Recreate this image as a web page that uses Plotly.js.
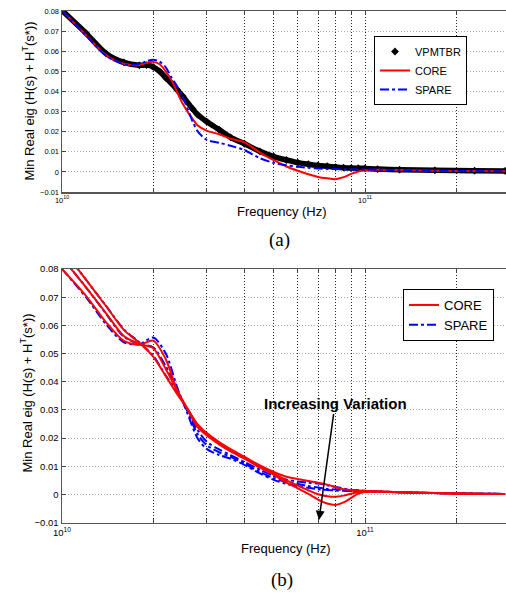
<!DOCTYPE html>
<html>
<head>
<meta charset="utf-8">
<script src="https://cdn.plot.ly/plotly-3.0.1.min.js"></script>
<style>html,body{margin:0;padding:0;background:#fff;}#chart{width:506px;height:593px;}</style>
</head>
<body>
<div id="chart"></div>
<script>
// ---------- Data (frequencies in GHz) ----------
const fTop = [10, 12, 14, 16, 18, 19, 20, 21, 22, 23, 24, 25, 27, 28, 30, 33, 36, 40, 45, 50, 55, 60, 65, 70, 75, 80, 85, 90, 95, 100, 110, 130, 170, 230, 290];
const vpmtbrTop = [0.0803, 0.0690, 0.0588, 0.0545, 0.0530, 0.0531, 0.0522, 0.0500, 0.0468, 0.0440, 0.0408, 0.0377, 0.0313, 0.0285, 0.0250, 0.0210, 0.0172, 0.0140, 0.0102, 0.0076, 0.0059, 0.0046, 0.0038, 0.0032, 0.0028, 0.0024, 0.0021, 0.0019, 0.0018, 0.0017, 0.0014, 0.0011, 0.0008, 0.0006, 0.0005];
const coreTop = [0.0803, 0.0680, 0.0580, 0.0538, 0.0532, 0.0542, 0.0547, 0.0535, 0.0500, 0.0455, 0.0395, 0.0340, 0.0262, 0.0232, 0.0205, 0.0187, 0.0165, 0.0147, 0.0096, 0.0058, 0.0027, 0.0006, -0.0012, -0.0025, -0.0032, -0.0036, -0.0026, -0.0010, 0.0002, 0.0008, 0.0011, 0.0009, 0.0006, 0.0004, 0.0003];
const spareTop = [0.0803, 0.0678, 0.0577, 0.0535, 0.0536, 0.0550, 0.0558, 0.0548, 0.0520, 0.0468, 0.0425, 0.0375, 0.0250, 0.0203, 0.0160, 0.0145, 0.0130, 0.0108, 0.0068, 0.0045, 0.0033, 0.0025, 0.0020, 0.0017, 0.0015, 0.0014, 0.0013, 0.0013, 0.0012, 0.0012, 0.0011, 0.0009, 0.0006, 0.0004, 0.0003];

const fBot = [10, 12, 14, 16, 18, 20, 22, 24, 26, 28, 30, 33, 36, 40, 45, 50, 55, 60, 65, 70, 75, 80, 85, 90, 95, 100, 110, 130, 170, 230, 290];
const core1 = [0.0800, 0.0705, 0.0610, 0.0545, 0.0531, 0.0546, 0.0480, 0.0370, 0.0300, 0.0240, 0.0210, 0.0178, 0.0153, 0.0127, 0.0095, 0.0070, 0.0042, 0.0022, 0.0002, -0.0018, -0.0032, -0.0037, -0.0028, -0.0012, 0.0003, 0.0009, 0.0011, 0.0008, 0.0005, 0.0003, 0.0002];
const core2 = [0.0840, 0.0735, 0.0642, 0.0562, 0.0533, 0.0519, 0.0445, 0.0368, 0.0302, 0.0245, 0.0214, 0.0182, 0.0157, 0.0130, 0.0098, 0.0074, 0.0050, 0.0032, 0.0015, 0.0001, -0.0006, -0.0008, -0.0004, 0.0003, 0.0008, 0.0011, 0.0011, 0.0008, 0.0005, 0.0003, 0.0002];
const core3 = [0.0873, 0.0762, 0.0667, 0.0584, 0.0538, 0.0489, 0.0420, 0.0356, 0.0303, 0.0250, 0.0219, 0.0186, 0.0161, 0.0134, 0.0103, 0.0080, 0.0063, 0.0055, 0.0048, 0.0042, 0.0035, 0.0026, 0.0019, 0.0016, 0.0014, 0.0013, 0.0011, 0.0008, 0.0005, 0.0003, 0.0002];
const spare1 = [0.0800, 0.0700, 0.0603, 0.0540, 0.0533, 0.0557, 0.0500, 0.0380, 0.0285, 0.0200, 0.0162, 0.0140, 0.0127, 0.0105, 0.0075, 0.0052, 0.0038, 0.0030, 0.0024, 0.0019, 0.0016, 0.0014, 0.0013, 0.0012, 0.0011, 0.0011, 0.0010, 0.0008, 0.0005, 0.0003, 0.0002];
const spare2 = [0.0840, 0.0735, 0.0640, 0.0560, 0.0534, 0.0522, 0.0455, 0.0372, 0.0292, 0.0215, 0.0175, 0.0150, 0.0134, 0.0110, 0.0080, 0.0058, 0.0045, 0.0037, 0.0030, 0.0025, 0.0020, 0.0018, 0.0016, 0.0014, 0.0013, 0.0012, 0.0010, 0.0008, 0.0005, 0.0003, 0.0002];
const spare3 = [0.0873, 0.0762, 0.0668, 0.0586, 0.0540, 0.0492, 0.0422, 0.0362, 0.0300, 0.0230, 0.0188, 0.0160, 0.0140, 0.0115, 0.0088, 0.0066, 0.0053, 0.0046, 0.0042, 0.0039, 0.0033, 0.0027, 0.0021, 0.0017, 0.0015, 0.0013, 0.0011, 0.0008, 0.0005, 0.0003, 0.0002];

const xMajorVals = [1e10, 1e11];
const xMajorText = ['10<sup>10</sup>', '10<sup>11</sup>'];
const xMinorVals = [2e10, 3e10, 4e10, 5e10, 6e10, 7e10, 8e10, 9e10, 2e11];
const yTickVals = [-0.01, 0, 0.01, 0.02, 0.03, 0.04, 0.05, 0.06, 0.07, 0.08];
const yTickText = ['\u22120.01', '0', '0.01', '0.02', '0.03', '0.04', '0.05', '0.06', '0.07', '0.08'];

const yTitle = 'Min Real eig (H(s) + H<sup>T</sup>(s*))';
const xTitle = 'Frequency (Hz)';

// ---------- Build ----------
const hz = a => a.map(f => f * 1e9);
const FONT = 'Liberation Sans, Arial, Helvetica, sans-serif';
const SM = 0.8;

const traces = [
  {x: hz(fTop), y: vpmtbrTop, mode: 'lines', line: {color: '#000', width: 5.5, shape: 'spline', smoothing: SM}, showlegend: false, xaxis: 'x', yaxis: 'y', hoverinfo: 'skip'},
  {x: hz(fTop), y: vpmtbrTop, mode: 'markers', name: 'VPMTBR', marker: {symbol: 'diamond', color: '#000', size: 6}, xaxis: 'x', yaxis: 'y', legend: 'legend', legendrank: 1},
  {x: hz(fTop), y: coreTop, mode: 'lines', name: 'CORE', line: {color: '#ff0000', width: 2, shape: 'spline', smoothing: SM}, xaxis: 'x', yaxis: 'y', legend: 'legend', legendrank: 2},
  {x: hz(fTop), y: spareTop, mode: 'lines', name: 'SPARE', line: {color: '#0000ff', width: 2, dash: 'dashdot', shape: 'spline', smoothing: SM}, xaxis: 'x', yaxis: 'y', legend: 'legend', legendrank: 3}
];

const spares = [spare1, spare2, spare3];
const cores = [core1, core2, core3];
spares.forEach((s, i) => traces.push({x: hz(fBot), y: s, mode: 'lines', name: 'SPARE', showlegend: i === 0, legend: 'legend2', legendrank: 2,
  line: {color: '#0000ff', width: 2, dash: 'dashdot', shape: 'spline', smoothing: SM}, xaxis: 'x2', yaxis: 'y2'}));
cores.forEach((c, i) => traces.push({x: hz(fBot), y: c, mode: 'lines', name: 'CORE', showlegend: i === 0, legend: 'legend2', legendrank: 1,
  line: {color: '#ff0000', width: 2, shape: 'spline', smoothing: SM}, xaxis: 'x2', yaxis: 'y2'}));

function xAxis(domainAnchor, fs) {
  return {
    type: 'log', range: [10, 11.4653], domain: [62 / 506, 1], anchor: domainAnchor,
    tickmode: 'array', tickvals: xMajorVals, ticktext: xMajorText,
    ticks: 'inside', ticklen: 4, tickwidth: 1, tickcolor: '#444',
    showgrid: true, gridcolor: '#222', griddash: '1px,2px', gridwidth: 1,
    minor: {tickmode: 'array', tickvals: xMinorVals, ticks: 'inside', ticklen: 4, tickcolor: '#444',
      showgrid: true, gridcolor: '#222', griddash: '1px,2px', gridwidth: 1},
    showline: true, linecolor: '#555', linewidth: 1.5, mirror: 'ticks',
    zeroline: false, tickfont: {family: FONT, size: fs, color: '#000'}, automargin: false
  };
}
function yAxis(dom, anchor, fs) {
  return {
    range: [-0.01, 0.08], domain: dom, anchor: anchor,
    tickmode: 'array', tickvals: yTickVals, ticktext: yTickText,
    ticks: 'inside', ticklen: 4, tickwidth: 1, tickcolor: '#444',
    showgrid: true, gridcolor: '#aaa', griddash: '1px,2px', gridwidth: 1,
    showline: true, linecolor: '#555', linewidth: 1.5, mirror: false,
    zeroline: false, tickfont: {family: FONT, size: fs, color: '#000'}, automargin: false
  };
}

const py = p => 1 - p / 593;
const px = p => p / 506;

const layout = {
  width: 506, height: 593,
  margin: {l: 0, r: 0, t: 0, b: 0},
  paper_bgcolor: '#fff', plot_bgcolor: '#fff',
  font: {family: FONT, color: '#000'},
  xaxis: xAxis('y', 7.5),
  yaxis: yAxis([py(192), py(11)], 'x', 7.5),
  xaxis2: xAxis('y2', 9.5),
  yaxis2: yAxis([py(522.7), py(269)], 'x2', 9.5),
  legend: {x: px(374), y: py(36), xanchor: 'left', yanchor: 'top', bgcolor: '#fff', bordercolor: '#000', borderwidth: 1,
    font: {family: FONT, size: 11, color: '#000'}, itemwidth: 30, traceorder: 'normal'},
  legend2: {x: px(403), y: py(289), xanchor: 'left', yanchor: 'top', bgcolor: '#fff', bordercolor: '#000', borderwidth: 1,
    font: {family: FONT, size: 13, color: '#000'}, itemwidth: 30, traceorder: 'normal'},
  showlegend: true,
  annotations: [
    {text: yTitle, xref: 'paper', yref: 'paper', x: px(28), y: py(101.5), textangle: -90, showarrow: false, font: {family: FONT, size: 13}, xanchor: 'center', yanchor: 'middle'},
    {text: yTitle, xref: 'paper', yref: 'paper', x: px(26), y: py(393.5), textangle: -90, showarrow: false, font: {family: FONT, size: 13}, xanchor: 'center', yanchor: 'middle'},
    {text: xTitle, xref: 'paper', yref: 'paper', x: px(282), y: py(212), showarrow: false, font: {family: FONT, size: 13}, xanchor: 'center', yanchor: 'middle'},
    {text: xTitle, xref: 'paper', yref: 'paper', x: px(286), y: py(548), showarrow: false, font: {family: FONT, size: 13}, xanchor: 'center', yanchor: 'middle'},
    {text: '(a)', xref: 'paper', yref: 'paper', x: px(279), y: py(240), showarrow: false, font: {family: 'Liberation Serif, Times New Roman, serif', size: 19}, xanchor: 'center', yanchor: 'middle'},
    {text: '(b)', xref: 'paper', yref: 'paper', x: px(282), y: py(580), showarrow: false, font: {family: 'Liberation Serif, Times New Roman, serif', size: 19}, xanchor: 'center', yanchor: 'middle'},
    {text: '<b>Increasing Variation</b>', xref: 'x2', yref: 'y2', x: Math.log10(7.05e10), y: -0.009, ax: 16, ay: -116,
      showarrow: true, arrowhead: 2, arrowsize: 1.2, arrowwidth: 1.5, arrowcolor: '#000', font: {family: FONT, size: 15, color: '#000'}}
  ]
};

Plotly.newPlot('chart', traces, layout, {displayModeBar: false, staticPlot: true});
</script>
</body>
</html>
